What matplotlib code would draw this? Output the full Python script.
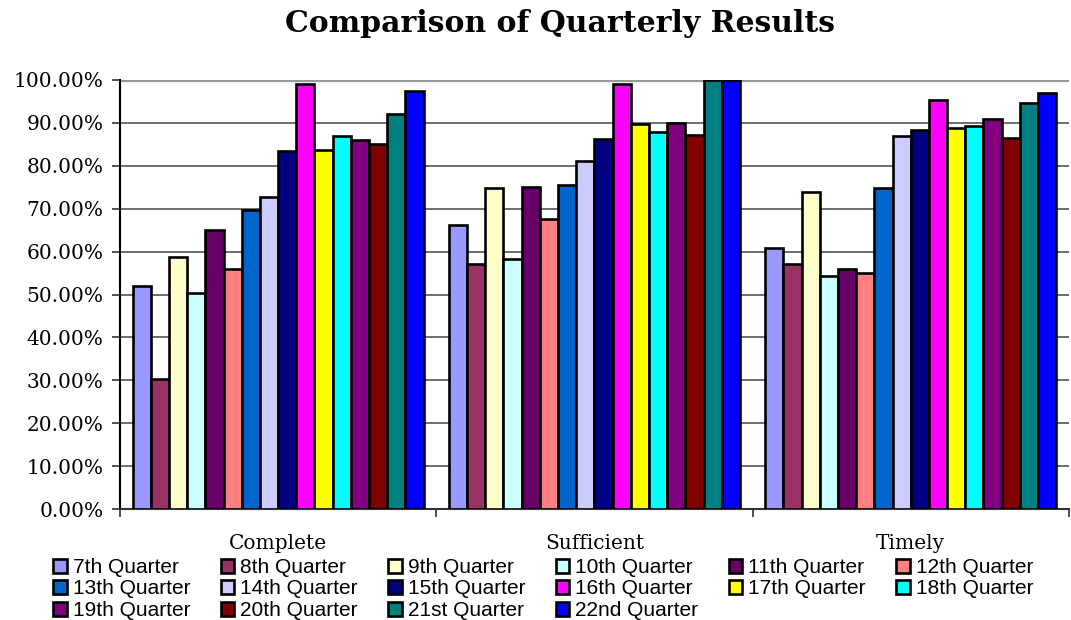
import numpy as np
import matplotlib.pyplot as plt
from matplotlib.ticker import FuncFormatter

categories = ["Complete", "Sufficient", "Timely"]
quarters = ["7th Quarter", "8th Quarter", "9th Quarter", "10th Quarter",
            "11th Quarter", "12th Quarter", "13th Quarter", "14th Quarter",
            "15th Quarter", "16th Quarter", "17th Quarter", "18th Quarter",
            "19th Quarter", "20th Quarter", "21st Quarter", "22nd Quarter"]
colors = ["#9999FF", "#993366", "#FFFFCC", "#CCFFFF", "#660066", "#FF8080",
          "#0066CC", "#CCCCFF", "#000080", "#FF00FF", "#FFFF00", "#00FFFF",
          "#800080", "#800000", "#008080", "#0000FF"]

# values per quarter: [Complete, Sufficient, Timely]
complete = [52.0, 30.3, 58.8, 50.4, 65.0, 56.0, 69.7, 72.7,
            83.4, 99.1, 83.6, 87.0, 85.9, 85.0, 92.1, 97.4]
sufficient = [66.2, 57.0, 74.9, 58.2, 75.1, 67.7, 75.6, 81.2,
              86.2, 99.1, 89.7, 87.8, 90.0, 87.2, 100.0, 100.0]
timely = [60.8, 57.0, 73.8, 54.4, 56.0, 55.0, 74.9, 87.0,
          88.3, 95.4, 88.9, 89.2, 91.0, 86.5, 94.6, 97.0]

fig = plt.figure(figsize=(10.71, 6.2), dpi=100)
ax = fig.add_axes([0.112, 0.179, 0.886, 0.692])

n = len(quarters)
width = 0.92 / n
x = np.arange(len(categories))
handles = []
for i in range(n):
    vals = [complete[i], sufficient[i], timely[i]]
    pos = x - 0.46 + width * (i + 0.5)
    b = ax.bar(pos, vals, width, color=colors[i], edgecolor="black",
               linewidth=1.9, label=quarters[i], zorder=3)
    handles.append(b)

ax.set_xlim(-0.5, 2.5)
ax.set_ylim(0, 100)
ax.set_yticks(np.arange(0, 101, 10))
ax.yaxis.set_major_formatter(FuncFormatter(lambda v, p: f"{v:.2f}%"))
ax.grid(axis="y", color="#555555", linewidth=1.2, zorder=0)
ax.set_axisbelow(True)

ax.set_xticks([-0.5, 0.5, 1.5, 2.5])
ax.set_xticklabels([])
ax.set_xticks(x, minor=True)
ax.set_xticklabels(categories, minor=True, fontsize=14.5, family="DejaVu Serif")
ax.tick_params(axis="x", which="minor", length=0, pad=18)
ax.tick_params(axis="x", which="major", length=6, width=1.2, color="#333333")
ax.tick_params(axis="y", length=6, width=1.2, color="#333333", pad=6)
for lab in ax.get_yticklabels():
    lab.set_family("DejaVu Serif")
    lab.set_fontsize(14.5)

for s in ["top", "right"]:
    ax.spines[s].set_visible(False)
ax.spines["left"].set_linewidth(1.5)
ax.spines["bottom"].set_linewidth(1.5)
ax.spines["bottom"].set_color("#333333")
ax.axhline(100, color="#999999", linewidth=3, zorder=1)

fig.suptitle("Comparison of Quarterly Results", x=0.523, y=0.985, fontsize=21.5,
             fontweight="bold", family="DejaVu Serif")

# legend filled row by row
ncol = 6
order = []
for c in range(ncol):
    order += list(range(c, n, ncol))
leg = fig.legend([handles[i] for i in order], [quarters[i] for i in order],
                 ncol=ncol, loc="upper left", bbox_to_anchor=(0.0495, 0.1),
                 frameon=False, handlelength=0.65, handleheight=0.65,
                 handletextpad=0.3, columnspacing=1.45, labelspacing=0.12,
                 borderpad=0, borderaxespad=0,
                 prop={"family": "Liberation Sans", "size": 15})

fig.savefig("out.png", dpi=100)
